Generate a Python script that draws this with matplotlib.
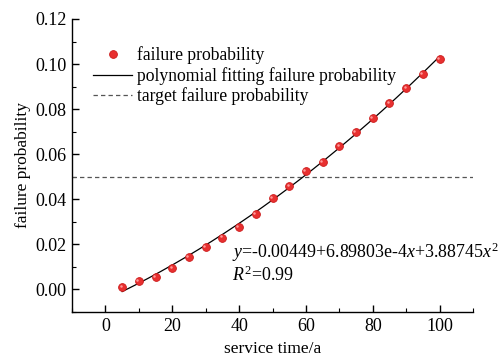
import numpy as np
import matplotlib
matplotlib.use("Agg")
import matplotlib.pyplot as plt
from matplotlib.ticker import MultipleLocator

plt.rcParams['font.family'] = ['Liberation Serif', 'DejaVu Serif']
plt.rcParams['mathtext.fontset'] = 'custom'
plt.rcParams['mathtext.rm'] = 'Liberation Serif'
plt.rcParams['mathtext.it'] = 'Liberation Serif:italic'

service_time = [5, 10, 15, 20, 25, 30, 35, 40, 45, 50, 55, 60, 65, 70, 75, 80, 85, 90, 95, 100]
failure_prob = [0.0010, 0.0036, 0.0056, 0.0096, 0.0145, 0.0190, 0.0230, 0.0277, 0.0336, 0.0406,
                0.0458, 0.0524, 0.0566, 0.0636, 0.0699, 0.0759, 0.0825, 0.0892, 0.0954, 0.1021]
target_prob = 0.05
fit_coef = [3.88745e-6, 6.89803e-4, -0.00449]  # x^2, x, const

fig = plt.figure(figsize=(5.04, 3.58), dpi=100)
ax = fig.add_axes([0.143, 0.1285, 0.7955, 0.8185])

xs = np.linspace(min(service_time), max(service_time), 200)
ax.plot(xs, np.polyval(fit_coef, xs), color='black', lw=0.9,
        label='polynomial fitting failure probability', zorder=3)
ax.axhline(target_prob, color='#555555', lw=0.9, ls=(0, (3.5, 2.5)),
           label='target failure probability', zorder=2)
ax.plot(service_time, failure_prob, 'o', ms=5.6, mfc='#e83030', mec='#cc1a1a', mew=0.6,
        label='failure probability', zorder=4)
ax.plot(np.array(service_time) - 0.5, np.array(failure_prob) + 0.0005, 'o', ms=1.8,
        mfc='#ff9a9a', mec='none', zorder=5)

ax.set_xlim(-10, 110)
ax.set_ylim(-0.01, 0.12)
ax.xaxis.set_major_locator(MultipleLocator(20))
ax.xaxis.set_minor_locator(MultipleLocator(10))
ax.yaxis.set_major_locator(MultipleLocator(0.02))
ax.yaxis.set_minor_locator(MultipleLocator(0.01))
ax.yaxis.set_major_formatter(matplotlib.ticker.FormatStrFormatter('%.2f'))
for s in ['top', 'right']:
    ax.spines[s].set_visible(False)
for s in ['left', 'bottom']:
    ax.spines[s].set_linewidth(1.0)
ax.tick_params(which='major', direction='in', length=5, width=1.0, labelsize=13, pad=4)
ax.tick_params(which='minor', direction='in', length=3, width=0.8)
ax.set_xlabel('service time/a', fontsize=12.5, labelpad=5)
ax.set_ylabel('failure probability', fontsize=12.5, labelpad=3)

h, l = ax.get_legend_handles_labels()
order = [2, 0, 1]
ax.legend([h[i] for i in order], [l[i] for i in order], loc='upper left',
          bbox_to_anchor=(0.035, 0.93), frameon=False, fontsize=12.7,
          handlelength=2.2, handletextpad=0.3, labelspacing=0.15, borderaxespad=0)

ax.text(0.40, 0.184, r'$y$=-0.00449+6.89803e-4$x$+3.88745$x^2$', transform=ax.transAxes,
        fontsize=12.9, va='baseline')
ax.text(0.40, 0.106, r'$R^2$=0.99', transform=ax.transAxes, fontsize=12.9, va='baseline')

fig.savefig('out.png', dpi=100)
